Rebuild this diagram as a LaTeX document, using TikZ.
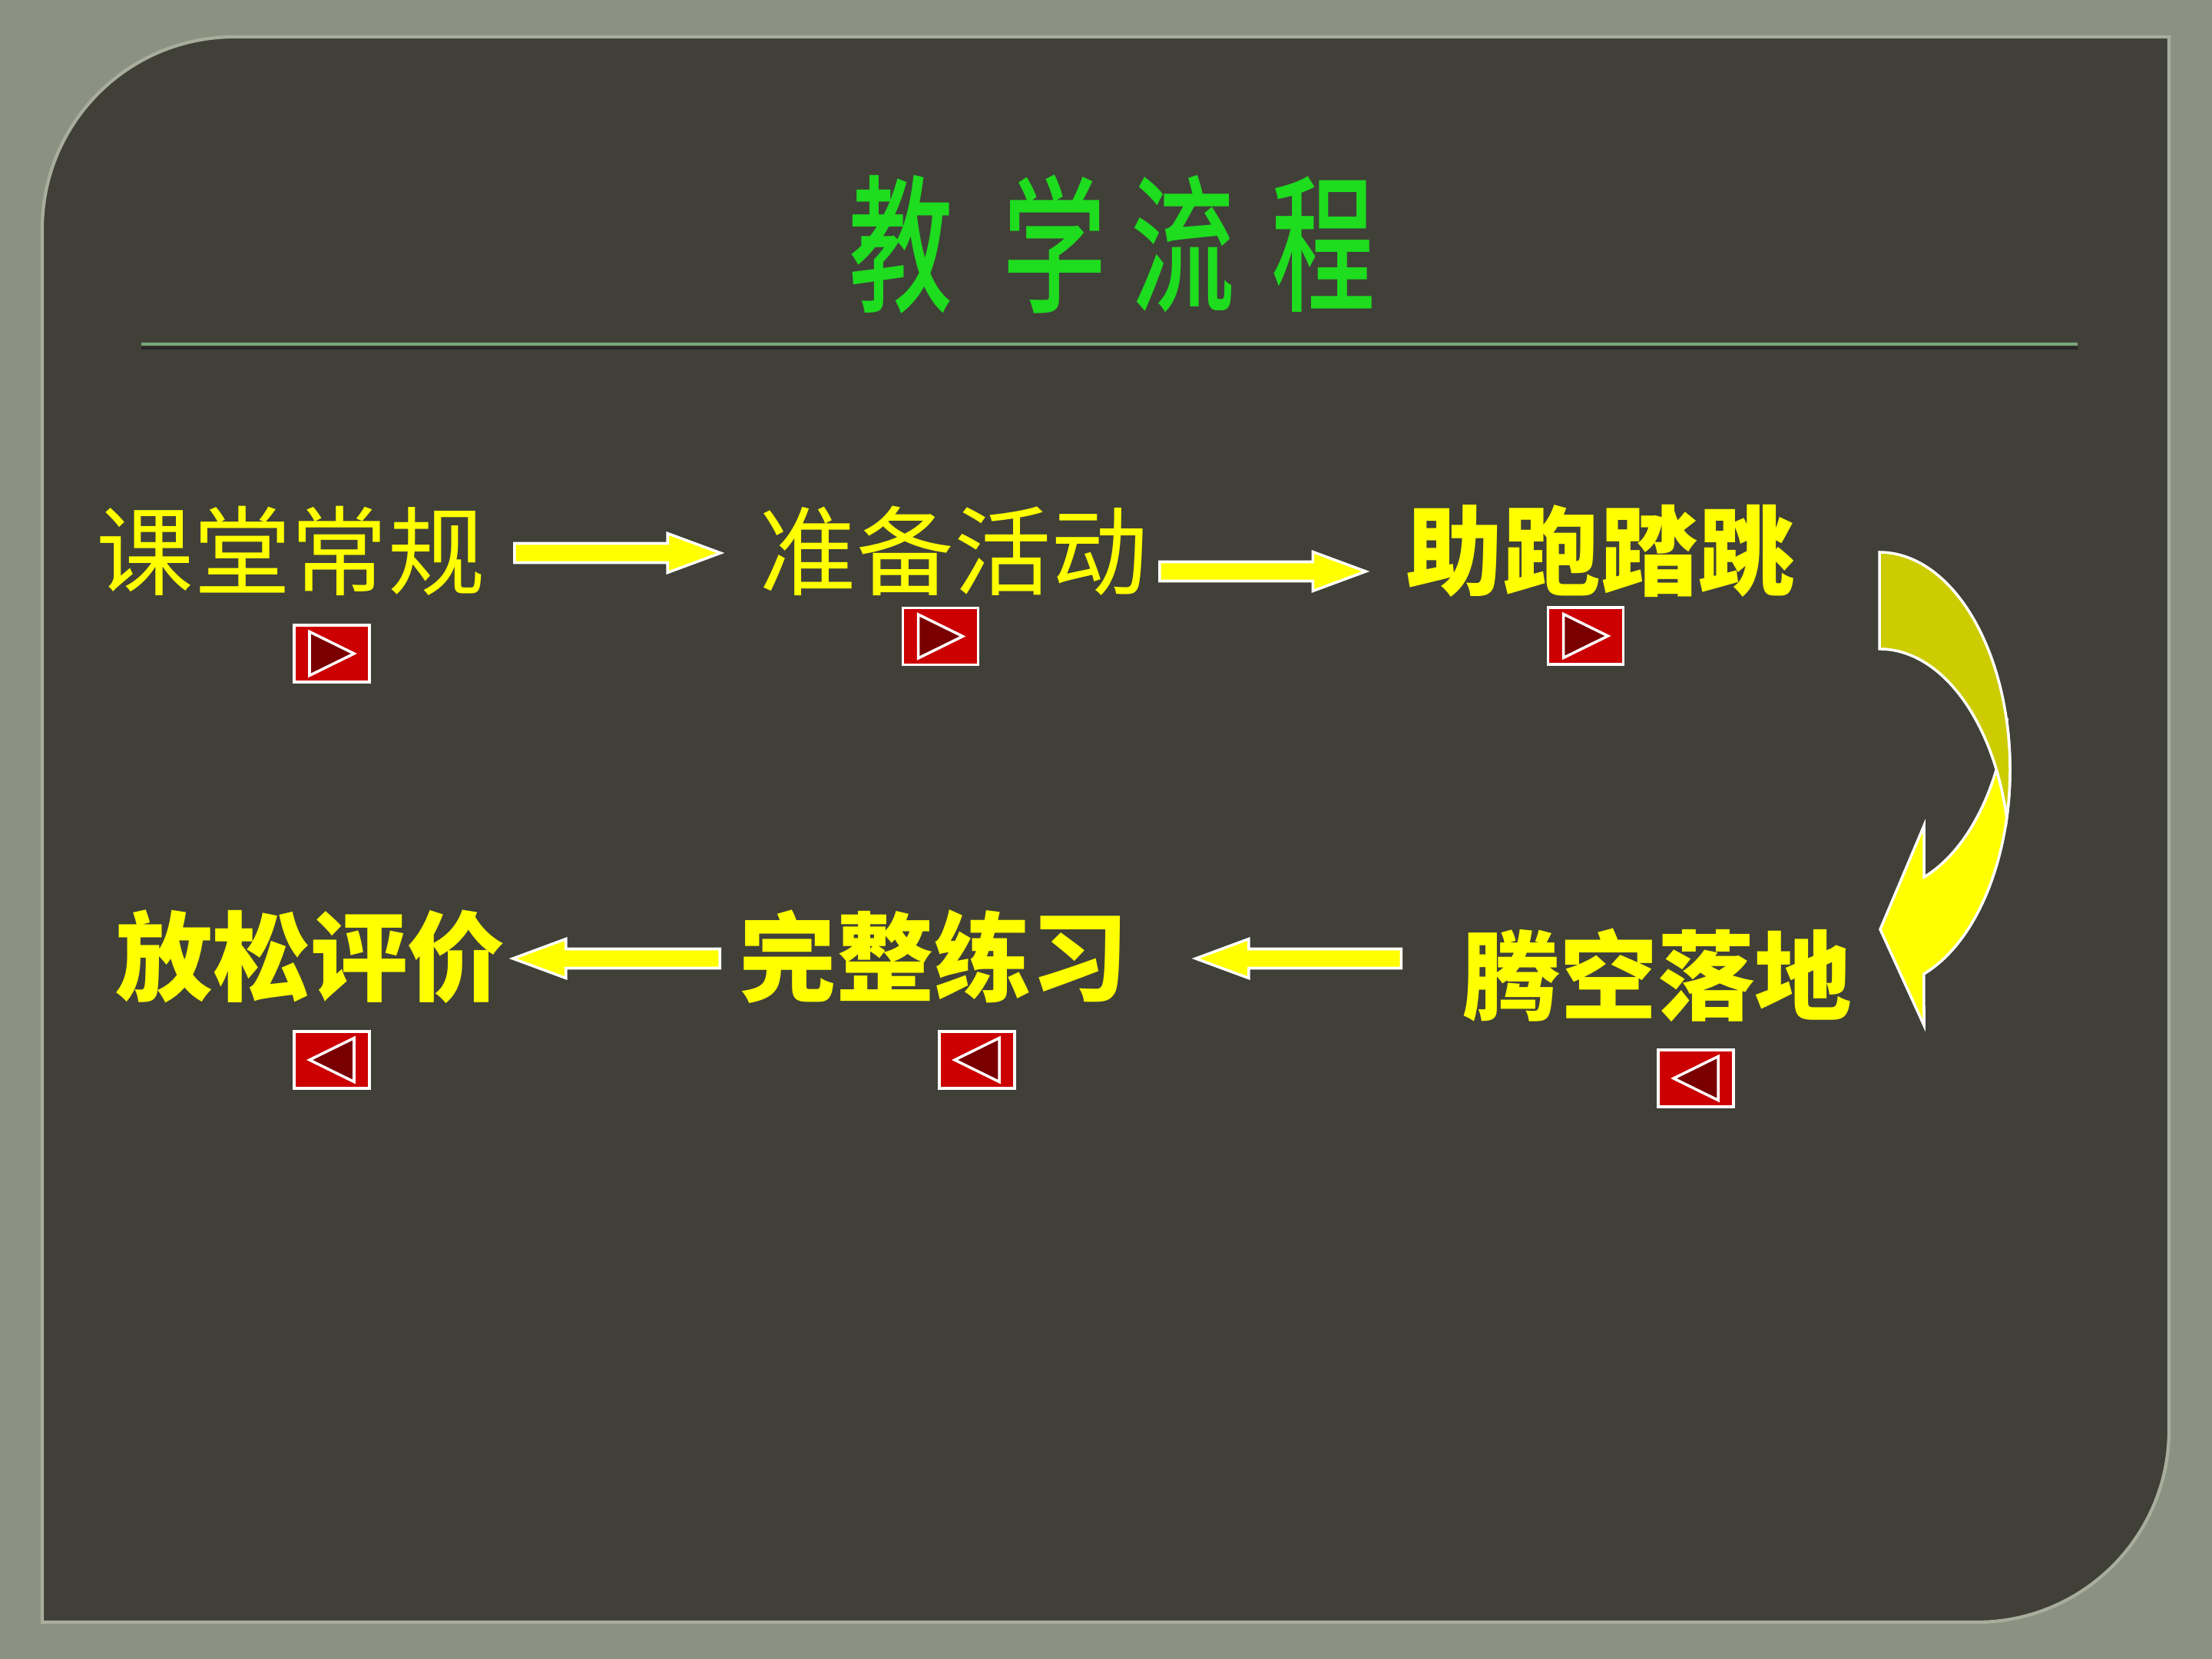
\documentclass[tikz,border=0pt]{standalone}
\usepackage{fontspec}
\newfontfamily\cjk{Noto Sans CJK SC}
\newfontfamily\titlefont{Noto Sans CJK SC Medium}[FakeStretch=0.70]
\usetikzlibrary{calc}
\definecolor{outerc}{HTML}{8C9282}
\definecolor{panelc}{HTML}{404039}
\definecolor{edgec}{HTML}{A9AE9C}
\definecolor{titlec}{HTML}{1EDC1E}
\definecolor{rulec}{HTML}{7AA57A}
\definecolor{textc}{HTML}{FFFF00}
\definecolor{arrowc}{HTML}{FFFF00}
\definecolor{backc}{HTML}{CCCC00}
\definecolor{btnc}{HTML}{CC0000}
\definecolor{tric}{HTML}{7A0000}

\begin{document}
\begin{tikzpicture}[every node/.style={inner sep=0pt}]
\tikzstyle{lbl}=[font=\cjk\fontsize{36}{40}\selectfont,text=textc]
\tikzstyle{lblb}=[lbl,font=\cjk\fontsize{36}{40}\selectfont\bfseries]
\tikzstyle{titlech}=[font=\titlefont\fontsize{55}{60}\selectfont,text=titlec]
\tikzstyle{btn}=[rectangle,fill=btnc,draw=white,line width=1pt,minimum width=9.8mm,minimum height=7.4mm]
\tikzstyle{tri}=[fill=tric,draw=white,line width=1pt,line join=miter]
\tikzstyle{blk}=[fill=arrowc,draw=white,line width=1pt,line join=miter,
  to path={let \p1=(\tikztostart),\p2=(\tikztotarget),\n1={sign(\x2-\x1)} in
    ({\x1},{\y1+1.25mm}) -- ({\x2-\n1*6.9mm},{\y1+1.25mm}) -- ({\x2-\n1*6.9mm},{\y1+2.55mm})
    -- ({\x2},{\y1}) -- ({\x2-\n1*6.9mm},{\y1-2.55mm}) -- ({\x2-\n1*6.9mm},{\y1-1.25mm})
    -- ({\x1},{\y1-1.25mm}) -- cycle}]
% slide
\fill[outerc] (0,0) rectangle (28.8,-21.6);
\draw[fill=panelc,draw=edgec,line width=1.2pt] (0.55,-21.12) -- (0.55,-2.98) arc[start angle=180,end angle=90,radius=2.5]
  -- (28.24,-0.48) -- (28.24,-18.62) arc[start angle=0,end angle=-90,radius=2.5] -- cycle;
% title
\foreach \c/\x [count=\i] in {教/11.73,学/13.73,流/15.40,程/17.23}
  \node[titlech] (t\i) at (\x,-3.18) {\c};
\draw[black!85,line width=1.2pt] (1.84,-4.53) -- (27.05,-4.53);
\draw[rulec,line width=1pt] (1.84,-4.48) -- (27.05,-4.48);
% steps
\node[lbl] (kt) at (3.79,-7.17) {课堂常规};
\node[lbl] (zb) at (12.42,-7.17) {准备活动};
\node[lblb] (zp) at (20.84,-7.17) {助跑踏跳};
\node[lblb] (tk) at (21.58,-12.70) {腾空落地};
\node[lblb] (wz) at (12.16,-12.46) {完整练习};
\node[lblb] (fs) at (4.04,-12.46) {放松评价};
\draw[blk] ([xshift=3.7mm,yshift=-0.3mm]kt.east) to ([xshift=-5mm]zb.west);
\draw[blk] ([xshift=1.4mm,yshift=-2.7mm]zb.east) to ([xshift=-5.2mm]zp.west);
\draw[blk] ([xshift=-2.5mm,yshift=-0.2mm]wz.west) to ([xshift=1mm]fs.east);
\draw[blk] ([xshift=-8mm,yshift=2.2mm]tk.west) to ([xshift=8.7mm]wz.east);
% curved arrow
\draw[fill=arrowc,draw=white,line width=1pt,line join=miter] (26.127,-9.39)
  arc[start angle=12.86,end angle=-70.07,x radius=1.70,y radius=2.83]
  -- (25.05,-13.35) -- (24.48,-12.10) -- (25.05,-10.75) -- (25.05,-11.42)
  arc[start angle=-70.07,end angle=-12.86,x radius=1.70,y radius=2.83] -- cycle;
\draw[fill=backc,draw=white,line width=1pt,line join=miter] (24.47,-7.19)
  arc[start angle=90,end angle=-12.86,x radius=1.70,y radius=2.83]
  arc[start angle=12.86,end angle=90,x radius=1.70,y radius=2.83] -- cycle;
% buttons
\foreach \n/\x/\y/\d in {b1/4.32/-8.51/1,b2/12.245/-8.285/1,b3/20.645/-8.28/1,b4/4.32/-13.80/-1,b5/12.72/-13.80/-1,b6/22.08/-14.04/-1}{
  \node[btn] (\n) at (\x,\y) {};
  \draw[tri] ($(\n)+({-0.29*\d},0.285)$) -- ($(\n)+({0.29*\d},0)$) -- ($(\n)+({-0.29*\d},-0.285)$) -- cycle;
}
\end{tikzpicture}
\end{document}
